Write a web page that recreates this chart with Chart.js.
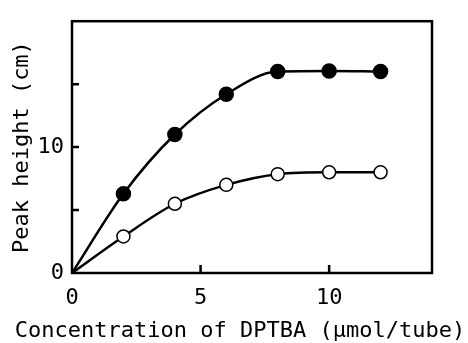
<!DOCTYPE html>
<html>
<head>
<meta charset="utf-8">
<script src="https://cdn.jsdelivr.net/npm/chart.js@4"></script>
<style>
html, body { margin: 0; padding: 0; background: #fff; }
#wrap { width: 468px; height: 343px; }
</style>
</head>
<body>
<div id="wrap"><canvas id="peakChart"></canvas></div>
<script>
// values
var concentration = [0, 2, 4, 6, 8, 10, 12]
var peakFilled = [0, 6.3, 11.0, 14.2, 16.0, 16.05, 16.0]
var peakOpen = [0, 2.9, 5.5, 7.0, 7.85, 8.0, 8.0]
var xTickMarks = [5, 10]
var yTickMarks = [5, 10, 15]
var yTickLabels = [0, 10]
var xTitle = 'Concentration of DPTBA (\u00b5mol/tube)'
var yTitle = 'Peak height (cm)'

var monoFont = '"DejaVu Sans Mono", "Liberation Mono", monospace'

function toPoints(ys) {
    return concentration.map(function (x, i) { return { x: x, y: ys[i] } })
}
// no marker at the origin
var radii = concentration.map(function (x) { return x === 0 ? 0 : 6.5 })

// frame, inward tick marks and x title
var framePlugin = {
    id: 'frame',
    afterDraw: function (chart) {
        var ctx = chart.ctx
        var a = chart.chartArea
        var xs = chart.scales.x, ys = chart.scales.y
        ctx.save()
        ctx.strokeStyle = '#000'
        ctx.lineWidth = 2.5
        ctx.strokeRect(a.left, a.top, a.right - a.left, a.bottom - a.top)
        ctx.beginPath()
        xTickMarks.forEach(function (v) {
            var px = xs.getPixelForValue(v)
            ctx.moveTo(px, a.bottom)
            ctx.lineTo(px, a.bottom - 8)
        })
        yTickMarks.forEach(function (v) {
            var py = ys.getPixelForValue(v)
            ctx.moveTo(a.left, py)
            ctx.lineTo(a.left + 7, py)
        })
        ctx.stroke()
        ctx.fillStyle = '#000'
        ctx.font = '22px ' + monoFont
        ctx.textAlign = 'center'
        ctx.textBaseline = 'alphabetic'
        ctx.fillText(xTitle, 240, 337)
        ctx.restore()
    }
}

var ctx = document.getElementById('peakChart').getContext('2d')

var chart = new Chart(ctx, {
    type: 'line',
    data: {
        datasets: [{
            label: 'filled',
            data: toPoints(peakFilled),
            borderColor: '#000',
            borderWidth: 2.5,
            backgroundColor: '#000',
            pointBackgroundColor: '#000',
            pointBorderColor: '#000',
            pointRadius: radii,
            cubicInterpolationMode: 'monotone',
            fill: false
        }, {
            label: 'open',
            data: toPoints(peakOpen),
            borderColor: '#000',
            borderWidth: 2.5,
            backgroundColor: '#fff',
            pointBackgroundColor: '#fff',
            pointBorderColor: '#000',
            pointBorderWidth: 1.5,
            pointRadius: radii,
            cubicInterpolationMode: 'monotone',
            fill: false
        }]
    },
    options: {
        responsive: true,
        maintainAspectRatio: false,
        devicePixelRatio: 1,
        animation: false,
        layout: { padding: { top: 17, right: 36, left: 0, bottom: 0 } },
        plugins: {
            legend: { display: false },
            tooltip: { enabled: false }
        },
        scales: {
            x: {
                type: 'linear',
                min: 0,
                max: 14,
                border: { display: false },
                grid: { display: false, drawTicks: false },
                ticks: {
                    stepSize: 5,
                    includeBounds: false,
                    maxRotation: 0,
                    padding: 12,
                    color: '#000',
                    font: { family: monoFont, size: 22 }
                },
                afterFit: function (scale) { scale.height = 70 }
            },
            y: {
                type: 'linear',
                min: 0,
                max: 20,
                border: { display: false },
                grid: { display: false, drawTicks: false },
                ticks: {
                    stepSize: 5,
                    padding: 8,
                    color: '#000',
                    font: { family: monoFont, size: 22 },
                    callback: function (v) { return yTickLabels.indexOf(v) >= 0 ? String(v) : '' }
                },
                title: {
                    display: true,
                    text: yTitle,
                    color: '#000',
                    padding: { top: 9, bottom: 0 },
                    font: { family: monoFont, size: 22 }
                },
                afterFit: function (scale) { scale.width = 72 }
            }
        }
    },
    plugins: [framePlugin]
})
</script>
</body>
</html>
